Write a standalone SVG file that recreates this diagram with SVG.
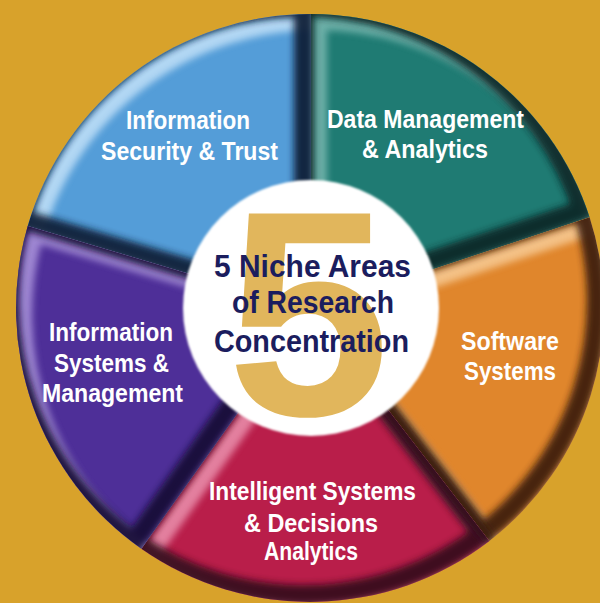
<svg xmlns="http://www.w3.org/2000/svg" xmlns:xlink="http://www.w3.org/1999/xlink" width="600" height="603" viewBox="0 0 600 603">
  <style>
    .lbl { font-family: "Liberation Sans", Arial, sans-serif; font-weight: bold; font-size: 25px; fill: #FFFFFF; }
    .ctr { font-family: "Liberation Sans", Arial, sans-serif; font-weight: bold; font-size: 32px; fill: #1B1D5E; }
    .five { font-family: "Liberation Sans", Arial, sans-serif; font-weight: bold; font-size: 293px; fill: #E1B65C; }
    .hl { fill: none; stroke-width: 18; filter: url(#soft); opacity: 0.85; }
    .sh { fill: none; stroke-width: 20; filter: url(#soft); opacity: 0.92; }
    .groove { fill: none; stroke-width: 12; filter: url(#soft); opacity: 0.8; }
  </style>
  <defs>
    <filter id="soft" x="-20%" y="-20%" width="140%" height="140%">
      <feGaussianBlur stdDeviation="3.6"/>
    </filter>
    <filter id="edge" x="-10%" y="-10%" width="120%" height="120%">
      <feGaussianBlur stdDeviation="0.9"/>
    </filter>
    <path id="sBlue" d="M311,310 L27.7,226 A294,294 0 0 1 311,14 Z"/>
    <path id="sTeal" d="M311,310 L311,14 A294,294 0 0 1 589.6,217.2 Z"/>
    <path id="sOrange" d="M311,310 L589.6,217.2 A294,294 0 0 1 489.3,540.9 Z"/>
    <path id="sRed" d="M311,310 L489.3,540.9 A294,294 0 0 1 141.4,548.8 Z"/>
    <path id="sPurple" d="M311,310 L141.4,548.8 A294,294 0 0 1 27.7,226 Z"/>
    <clipPath id="cBlue"><use xlink:href="#sBlue"/></clipPath>
    <clipPath id="cTeal"><use xlink:href="#sTeal"/></clipPath>
    <clipPath id="cOrange"><use xlink:href="#sOrange"/></clipPath>
    <clipPath id="cRed"><use xlink:href="#sRed"/></clipPath>
    <clipPath id="cPurple"><use xlink:href="#sPurple"/></clipPath>
  </defs>

  <rect x="0" y="0" width="600" height="603" fill="#D8A22B"/>

  <g id="node-information-security">
    <use xlink:href="#sBlue" fill="#549DD8"/>
    <g clip-path="url(#cBlue)">
      <use xlink:href="#sBlue" class="hl" stroke="#C2E1F8" transform="translate(7,7)"/>
      <use xlink:href="#sBlue" class="sh" stroke="#0E1F36" transform="translate(-7,-7)"/>
    </g>
    <text class="lbl" x="188" y="129" text-anchor="middle" textLength="124" lengthAdjust="spacingAndGlyphs">Information</text>
    <text class="lbl" x="189.5" y="160" text-anchor="middle" textLength="177" lengthAdjust="spacingAndGlyphs">Security &amp; Trust</text>
  </g>

  <g id="node-data-management">
    <use xlink:href="#sTeal" fill="#1F7B73"/>
    <g clip-path="url(#cTeal)">
      <use xlink:href="#sTeal" class="hl" stroke="#79B8B0" transform="translate(7,7)"/>
      <use xlink:href="#sTeal" class="sh" stroke="#092628" transform="translate(-7,-7)"/>
    </g>
    <text class="lbl" x="425.5" y="128" text-anchor="middle" textLength="197" lengthAdjust="spacingAndGlyphs">Data Management</text>
    <text class="lbl" x="425" y="158" text-anchor="middle" textLength="126" lengthAdjust="spacingAndGlyphs">&amp; Analytics</text>
  </g>

  <g id="node-software-systems">
    <use xlink:href="#sOrange" fill="#E0862C"/>
    <g clip-path="url(#cOrange)">
      <use xlink:href="#sOrange" class="hl" stroke="#F7CB95" transform="translate(7,7)"/>
      <use xlink:href="#sOrange" class="sh" stroke="#3A1C0C" transform="translate(-7,-7)"/>
      <line class="groove" x1="311" y1="310" x2="489.3" y2="540.9" stroke="#3A1C0C"/>
    </g>
    <text class="lbl" x="510" y="350" text-anchor="middle" textLength="98" lengthAdjust="spacingAndGlyphs">Software</text>
    <text class="lbl" x="510" y="380" text-anchor="middle" textLength="92" lengthAdjust="spacingAndGlyphs">Systems</text>
  </g>

  <g id="node-intelligent-systems">
    <use xlink:href="#sRed" fill="#B91E4A"/>
    <g clip-path="url(#cRed)">
      <use xlink:href="#sRed" class="hl" stroke="#EA92AE" transform="translate(7,7)"/>
      <use xlink:href="#sRed" class="sh" stroke="#34081A" transform="translate(-7,-7)"/>
      <line class="groove" x1="311" y1="310" x2="489.3" y2="540.9" stroke="#34081A"/>
    </g>
    <text class="lbl" x="312.5" y="500" text-anchor="middle" textLength="207" lengthAdjust="spacingAndGlyphs">Intelligent Systems</text>
    <text class="lbl" x="311" y="532" text-anchor="middle" textLength="134" lengthAdjust="spacingAndGlyphs">&amp; Decisions</text>
    <text class="lbl" x="311" y="560" text-anchor="middle" textLength="94" lengthAdjust="spacingAndGlyphs">Analytics</text>
  </g>

  <g id="node-information-systems">
    <use xlink:href="#sPurple" fill="#4E2F98"/>
    <g clip-path="url(#cPurple)">
      <use xlink:href="#sPurple" class="hl" stroke="#AC95DC" transform="translate(7,7)"/>
      <use xlink:href="#sPurple" class="sh" stroke="#150B34" transform="translate(-7,-7)"/>
    </g>
    <text class="lbl" x="111" y="341" text-anchor="middle" textLength="124" lengthAdjust="spacingAndGlyphs">Information</text>
    <text class="lbl" x="111.5" y="372" text-anchor="middle" textLength="115" lengthAdjust="spacingAndGlyphs">Systems &amp;</text>
    <text class="lbl" x="112.5" y="402" text-anchor="middle" textLength="141" lengthAdjust="spacingAndGlyphs">Management</text>
  </g>

  <g id="connectors"></g>

  <g id="node-center">
    <circle cx="311" cy="308" r="128" fill="#FFFFFF" filter="url(#edge)"/>
    <text class="five" x="308.5" y="415" text-anchor="middle">5</text>
    <text class="ctr" x="312.5" y="277" text-anchor="middle" textLength="197" lengthAdjust="spacingAndGlyphs">5 Niche Areas</text>
    <text class="ctr" x="313" y="313" text-anchor="middle" textLength="162" lengthAdjust="spacingAndGlyphs">of Research</text>
    <text class="ctr" x="311.5" y="352" text-anchor="middle" textLength="195" lengthAdjust="spacingAndGlyphs">Concentration</text>
  </g>
</svg>
